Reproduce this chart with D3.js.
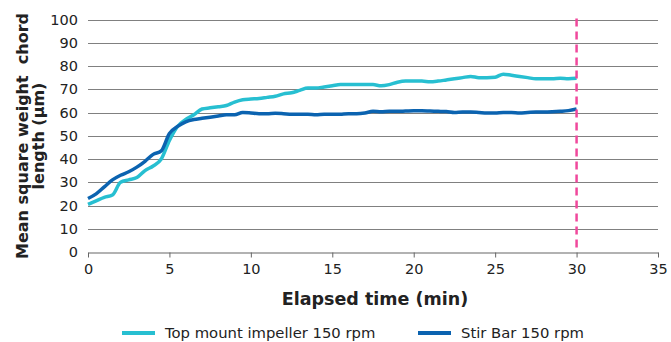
<!DOCTYPE html>
<html>
<head>
<meta charset="utf-8">
<script src="https://cdn.jsdelivr.net/npm/d3@7"></script>
<style>
  html, body { margin: 0; padding: 0; background: #fff; }
  svg { display: block; font-family: "DejaVu Sans", Verdana, sans-serif; }
</style>
</head>
<body>
<svg id="chart" width="671" height="342"></svg>
<script>
// Elapsed time in minutes (sampled every half minute)
const times = d3.range(0, 30.01, 0.5);

// Mean square weight chord length (µm) for each stirring set-up
const topMount = [20.5, 22, 23.5, 24.5, 30, 31, 32, 35, 37, 40,
  48, 54, 57, 59, 61.5, 62, 62.5, 63, 64.5, 65.5,
  65.8, 66, 66.5, 67, 68, 68.5, 69.5, 70.5, 70.5, 71,
  71.5, 72, 72, 72, 72, 72, 71.5, 72, 73, 73.5,
  73.5, 73.5, 73.2, 73.5, 74, 74.5, 75, 75.5, 75, 75,
  75.2, 76.5, 76, 75.5, 75, 74.5, 74.5, 74.5, 74.7, 74.5, 74.7];
const stirBar = [23, 25, 28, 31, 33, 34.5, 36.5, 39, 42, 43.5,
  51, 54, 56, 57, 57.5, 58, 58.5, 59, 59, 60,
  59.8, 59.5, 59.5, 59.7, 59.5, 59.2, 59.2, 59.3, 59, 59.2,
  59.2, 59.3, 59.5, 59.5, 59.8, 60.5, 60.3, 60.5, 60.5, 60.6,
  60.7, 60.7, 60.6, 60.5, 60.4, 60, 60.2, 60.2, 60, 59.8,
  59.8, 60, 60, 59.8, 60, 60.2, 60.2, 60.3, 60.5, 60.8, 61.5];

const seriesNames = ["Top mount impeller 150 rpm", "Stir Bar 150 rpm"];
const seriesColors = ["#27BFD1", "#0B63B0"];
const xTicks = [0, 5, 10, 15, 20, 25, 30, 35];
const yTicks = d3.range(0, 101, 10);
const markerTime = 30;

const svg = d3.select("#chart");
const plotLeft = 88, plotRight = 658, plotTop = 19.5, plotBottom = 252;

const x = d3.scaleLinear().domain([0, 35]).range([plotLeft, plotRight]);
const y = d3.scaleLinear().domain([0, 100]).range([plotBottom, plotTop]);

// Horizontal gridlines
svg.append("g")
  .selectAll("line")
  .data(yTicks.filter(v => v > 0))
  .join("line")
  .attr("x1", plotLeft).attr("x2", plotRight)
  .attr("y1", d => Math.round(y(d)) + 0.5)
  .attr("y2", d => Math.round(y(d)) + 0.5)
  .attr("stroke", "#808080")
  .attr("stroke-width", 1.2);

// Y tick labels
svg.append("g")
  .selectAll("text")
  .data(yTicks)
  .join("text")
  .attr("x", 78)
  .attr("y", d => y(d))
  .attr("dy", "0.36em")
  .attr("text-anchor", "end")
  .attr("font-size", 14.5)
  .attr("fill", "#222")
  .text(d => d);

// X axis
const xAxis = svg.append("g")
  .attr("transform", `translate(0,${Math.round(plotBottom) + 0.5})`)
  .call(d3.axisBottom(x).tickValues(xTicks).tickSize(5).tickPadding(6).tickSizeOuter(0));
xAxis.select(".domain").attr("stroke", "#666").attr("stroke-width", 1.2);
xAxis.selectAll(".tick line").attr("stroke", "#666");
xAxis.selectAll(".tick text")
  .attr("font-family", "DejaVu Sans, Verdana, sans-serif")
  .attr("font-size", 14.5)
  .attr("fill", "#222");

// Series lines
const line = d3.line()
  .x((d, i) => x(times[i]))
  .y(d => y(d))
  .curve(d3.curveMonotoneX);

[topMount, stirBar].forEach((vals, k) => {
  svg.append("path")
    .datum(vals)
    .attr("fill", "none")
    .attr("stroke", seriesColors[k])
    .attr("stroke-width", 3.5)
    .attr("stroke-linejoin", "round")
    .attr("d", line);
});

// Vertical dashed marker at 30 min
svg.append("line")
  .attr("x1", x(markerTime)).attr("x2", x(markerTime))
  .attr("y1", plotTop - 1).attr("y2", plotBottom)
  .attr("stroke", "#F0489C")
  .attr("stroke-width", 2.5)
  .attr("stroke-dasharray", "8,5");

// Axis titles
svg.append("text")
  .attr("x", 375).attr("y", 305)
  .attr("text-anchor", "middle")
  .attr("font-size", 17.5)
  .attr("font-weight", "bold")
  .attr("fill", "#222")
  .text("Elapsed time (min)");

const yTitle = svg.append("text")
  .attr("transform", "translate(31,136) rotate(-90)")
  .attr("text-anchor", "middle")
  .attr("font-size", 16)
  .attr("font-weight", "bold")
  .attr("fill", "#222");
yTitle.append("tspan").attr("x", 0).attr("dy", "-0.2em").text("Mean square weight\u00a0 chord");
yTitle.append("tspan").attr("x", 0).attr("dy", "1.0em").text("length (\u03bcm)");

// Legend
const legendX = [122, 418];
seriesNames.forEach((name, k) => {
  const g = svg.append("g").attr("transform", `translate(${legendX[k]},333)`);
  g.append("line")
    .attr("x1", 0).attr("x2", 33)
    .attr("stroke", seriesColors[k])
    .attr("stroke-width", 4);
  g.append("text")
    .attr("x", 43).attr("dy", "0.35em")
    .attr("font-size", 14.8)
    .attr("fill", "#222")
    .text(name);
});
</script>
</body>
</html>
